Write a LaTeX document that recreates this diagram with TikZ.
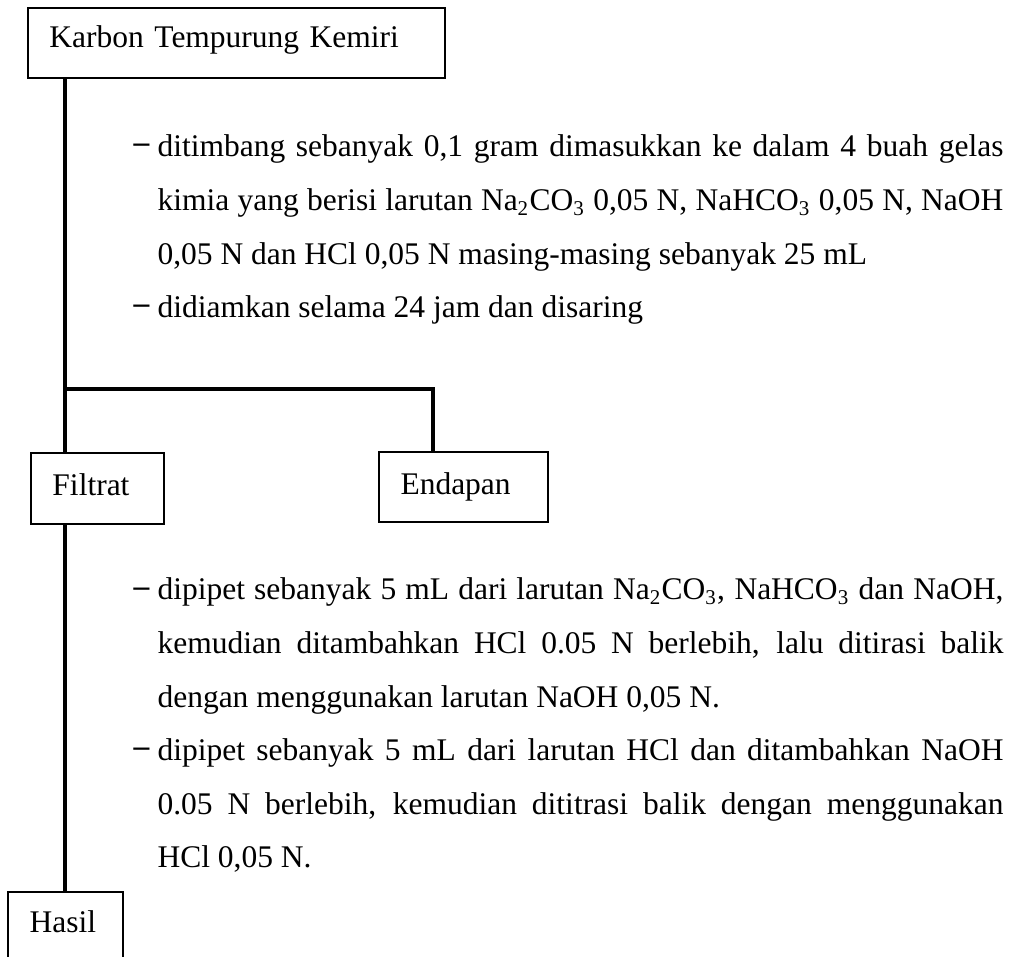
\documentclass[tikz,border=0pt]{standalone}
\usepackage{fontspec}
\setmainfont{Liberation Serif}
\begin{document}
\begin{tikzpicture}[x=0.381pt,y=-0.381pt,
  box/.style={draw, line width=0.65pt, inner ysep=0pt, inner xsep=8.2pt, align=left,
    text height=8.2pt, text depth=2.6pt, font=\fontsize{12pt}{14pt}\selectfont},
  trunk/.style={line width=1.3pt},
  item/.style={anchor=base west, inner sep=0pt, text width=322.3pt, align=justify,
    font=\fontsize{12pt}{20.4pt}\selectfont},
  dashmark/.style={anchor=base west, inner sep=0pt, font=\fontsize{12pt}{14pt}\selectfont\bfseries}]
\useasboundingbox (0,0) rectangle (1012,957);

% boxes
\node[box, text width=142.5pt, minimum height=26.67pt, text depth=5.1pt] (top) at (236.5,43) {Karbon Tempurung Kemiri};
\node[box, text width=34.3pt, minimum height=27.05pt] (filt) at (97.5,488.5) {Filtrat};
\node[box, text width=48pt, minimum height=26.67pt] (endap) at (463.5,487) {Endapan};
\node[box, text width=27.4pt, minimum height=25.9pt, text depth=3.6pt] (hasil) at (65.5,926) {Hasil};

% connectors
\coordinate (tx) at (65,0);
\coordinate (br) at (65,389);
\coordinate (ebr) at (433,389);
\draw[trunk] (top.south -| tx) -- (filt.north -| tx);
\draw[trunk] (br) -- (ebr) -- (ebr |- endap.north);
\draw[trunk] (filt.south -| tx) -- (hasil.north -| tx);

% first block of steps
\node[dashmark] (d1) at (133,153) {–};
\node[item] (t1) at (157,157) {ditimbang sebanyak 0,1 gram dimasukkan ke dalam 4 buah gelas\linebreak
kimia yang berisi larutan Na\textsubscript{2}CO\textsubscript{3} 0,05 N, NaHCO\textsubscript{3} 0,05 N, NaOH\linebreak
0,05 N dan HCl 0,05 N masing-masing sebanyak 25 mL};
\node[dashmark] (d2) at (133,313.5) {–};
\node[item] (t2) at (157,317.5) {didiamkan selama 24 jam dan disaring};

% second block of steps
\node[dashmark] (d3) at (133,596) {–};
\node[item] (t3) at (157,600) {dipipet sebanyak 5 mL dari larutan Na\textsubscript{2}CO\textsubscript{3}, NaHCO\textsubscript{3} dan NaOH,\linebreak
kemudian ditambahkan HCl 0.05 N berlebih, lalu ditirasi balik\linebreak
dengan menggunakan larutan NaOH 0,05 N.};
\node[dashmark] (d4) at (133,756.5) {–};
\node[item] (t4) at (157,760.5) {dipipet sebanyak 5 mL dari larutan HCl dan ditambahkan NaOH\linebreak
0.05 N berlebih, kemudian dititrasi balik dengan menggunakan\linebreak
HCl 0,05 N.};
\end{tikzpicture}
\end{document}
